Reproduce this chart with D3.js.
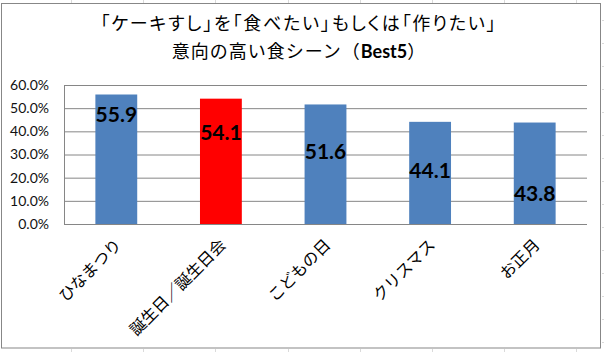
<!DOCTYPE html>
<html>
<head>
<meta charset="utf-8">
<script src="https://cdn.jsdelivr.net/npm/d3@7"></script>
<style>
  body { margin: 0; background: #fff; }
  svg { display: block; }
  .jp { font-family: "Noto Sans CJK JP", sans-serif; }
  .palt { font-feature-settings: "palt"; }
</style>
</head>
<body>
<div id="chart"></div>
<script>
const width = 604,
    height = 352,
    margin = ({ top: 85, right: 17, bottom: 128, left: 64 });

// data
const scenes = ["ひなまつり", "誕生日／誕生日会", "こどもの日", "クリスマス", "お正月"];
const shares = [55.9, 54.1, 51.6, 44.1, 43.8];
const highlight = "誕生日／誕生日会";
const yTicks = [0, 10, 20, 30, 40, 50, 60];

// label drop below bar top (px), as placed in the original
const labelDrop = [19, 33, 46, 48, 70];

const svg = d3.select("#chart")
    .append("svg")
    .attr("width", width)
    .attr("height", height);

// spreadsheet cells peeking around the chart frame
const sheet = svg.append("g").attr("stroke", "#dadada").attr("stroke-width", 1);
d3.range(71, 604, 72.2).forEach(x => {
    sheet.append("line").attr("x1", Math.round(x) + 0.5).attr("x2", Math.round(x) + 0.5).attr("y1", 0).attr("y2", 3);
    sheet.append("line").attr("x1", Math.round(x) + 0.5).attr("x2", Math.round(x) + 0.5).attr("y1", 349).attr("y2", 352);
});
d3.range(20, 352, 23).forEach(y => {
    sheet.append("line").attr("x1", 602).attr("x2", 604).attr("y1", y + 0.5).attr("y2", y + 0.5);
});

// chart frame
svg.append("rect")
    .attr("x", 1.5).attr("y", 3.5)
    .attr("width", 599).attr("height", 344.5)
    .attr("fill", "#fff")
    .attr("stroke", "#878787");

const x = d3.scaleBand()
    .domain(scenes)
    .range([margin.left, width - margin.right])
    .paddingInner(0.6)
    .paddingOuter(0.3);

const y = d3.scaleLinear()
    .domain([0, 60])
    .range([height - margin.bottom, margin.top]);

// gridlines + y labels
const yAxis = svg.append("g")
    .attr("transform", `translate(${margin.left},0)`)
    .call(d3.axisLeft(y)
        .tickValues(yTicks)
        .tickSize(-(width - margin.left - margin.right))
        .tickPadding(15)
        .tickFormat(d => d.toFixed(1) + "%"));
yAxis.select(".domain").remove();
yAxis.selectAll(".tick line")
    .attr("stroke", "#868686");
yAxis.selectAll(".tick text")
    .attr("fill", "#111")
    .style("font-family", "Lato, 'Open Sans', sans-serif")
    .style("font-size", "14px");

// left axis line
svg.append("line")
    .attr("x1", margin.left + 0.5).attr("x2", margin.left + 0.5)
    .attr("y1", y(60)).attr("y2", y(0))
    .attr("stroke", "#868686");

// bars
svg.selectAll(".bar")
    .data(scenes)
    .enter()
    .append("rect")
    .attr("class", "bar")
    .attr("x", d => x(d))
    .attr("y", (d, i) => y(shares[i]))
    .attr("width", x.bandwidth())
    .attr("height", (d, i) => y(0) - y(shares[i]))
    .attr("fill", d => d === highlight ? "#ff0000" : "#4f81bd");

// value labels
svg.selectAll(".val")
    .data(scenes)
    .enter()
    .append("text")
    .attr("class", "val")
    .attr("x", d => x(d) + x.bandwidth() / 2)
    .attr("y", (d, i) => y(shares[i]) + labelDrop[i])
    .attr("text-anchor", "middle")
    .attr("dominant-baseline", "central")
    .style("font-family", "Lato, sans-serif")
    .style("font-weight", "bold")
    .style("font-size", "21px")
    .attr("fill", "#000")
    .text((d, i) => shares[i].toFixed(1));

// x axis labels
svg.selectAll(".cat")
    .data(scenes)
    .enter()
    .append("text")
    .attr("class", "cat jp")
    .attr("transform", d => `translate(${x(d) + x.bandwidth() / 2 + 6},${y(0) + 22}) rotate(-45)`)
    .attr("text-anchor", "end")
    .style("font-size", "16px")
    .attr("fill", "#000")
    .text(d => d);

// title
const title = svg.append("text")
    .attr("class", "jp")
    .attr("text-anchor", "middle")
    .style("font-size", "18px")
    .attr("fill", "#000");
title.append("tspan")
    .attr("class", "palt")
    .attr("x", 299).attr("y", 30)
    .style("letter-spacing", "1.8px")
    .text("「ケーキすし」を「食べたい」もしくは「作りたい」");
const line2 = title.append("tspan")
    .attr("x", 299).attr("y", 58)
    .style("letter-spacing", "1px");
line2.append("tspan").text("意向の高い食シーン（");
line2.append("tspan")
    .style("font-family", "Lato, sans-serif")
    .style("font-weight", "bold")
    .style("letter-spacing", "0px")
    .text("Best5");
line2.append("tspan").text("）");
</script>
</body>
</html>
